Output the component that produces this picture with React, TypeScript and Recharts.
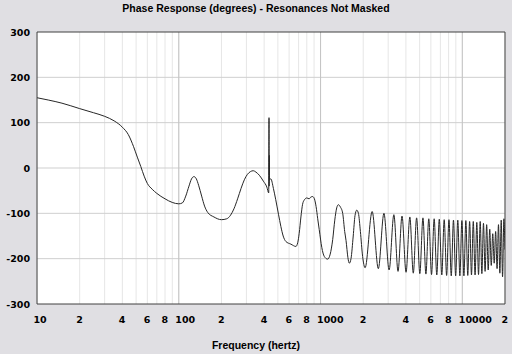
import React from "react";
import { LineChart, Line, XAxis, YAxis, CartesianGrid, ReferenceLine } from "recharts";

const freqs = [
  10, 12, 15, 20, 25, 30, 35, 40, 44, 48, 51, 54, 57, 60, 65, 70, 80, 90, 100, 106, 112, 118, 123, 128, 133, 138, 145, 152, 160, 177, 200, 218, 232, 245, 260, 275, 290, 305, 320, 335, 350, 370, 395, 418, 431, 433, 434, 435, 436.5, 446, 465, 483, 505, 525, 545, 569, 618, 670, 690, 707, 727, 747, 770, 800, 830, 855, 880, 905, 930, 955, 979, 1020, 1062, 1122, 1170, 1218, 1260, 1300, 1335, 1380, 1433, 1480, 1513, 1560, 1596, 1640, 1700, 1750, 1800, 1850, 1910, 1980,
  2062, 2312, 2556, 2800, 3045, 3290, 3520, 3755, 4010, 4265, 4510, 4760, 5015, 5275, 5535, 5800, 6065, 6330, 6605, 6880, 7165, 7450, 7750, 8050, 8355, 8660, 8975, 9290, 9610, 9930, 10260, 10590, 10925, 11260, 11605, 11950, 12300, 12650, 13010, 13370, 13735, 14100, 14475, 14850, 15230, 15610, 16000, 16390, 16785, 17180, 17585, 17990, 18400, 18810, 19225, 19640, 20000,
];

const phases = [
  155, 150, 143, 131, 122, 114, 104, 90, 74, 47, 24, 3, -18, -34, -47, -56, -68, -76, -79, -77, -62, -40, -24, -19, -24, -38, -62, -84, -98, -108, -114, -112, -104, -90, -68, -45, -26, -14, -8, -6, -9, -16, -29, -42, -55, 111, -40, 28, -25, -24, -45, -70, -102, -129, -150, -162, -168, -173, -165, -144, -108, -80, -70, -66, -68, -64, -63, -68, -85, -112, -136, -175, -195, -201, -190, -158, -115, -88, -81, -86, -100, -140, -160, -198, -210, -200, -150, -105, -93, -100, -140, -195,
  -220, -96, -222, -100, -225, -103, -228, -106, -230, -108, -232, -110, -233, -110, -234, -112, -235, -112, -236, -113, -236, -114, -237, -114, -238, -115, -238, -115, -238, -116, -238, -116, -237, -118, -236, -118, -236, -120, -235, -118, -233, -122, -228, -125, -225, -135, -215, -145, -210, -140, -222, -125, -232, -115, -240, -112, -180,
];

const xTicks = [
  10, 20, 30, 40, 50, 60, 70, 80, 90,
  100, 200, 300, 400, 500, 600, 700, 800, 900,
  1000, 2000, 3000, 4000, 5000, 6000, 7000, 8000, 9000,
  10000, 20000,
];
const xTickLabels = [
  "10", "2", "", "4", "", "6", "", "8", "",
  "100", "2", "", "4", "", "6", "", "8", "",
  "1000", "2", "", "4", "", "6", "", "8", "",
  "10000", "2",
];
const yTicks = [-300, -200, -100, 0, 100, 200, 300];
const decades = [100, 1000, 10000];
const innerGridY = [-200, -100, 0, 100, 200];

const data = freqs.map((f, i) => ({ f, p: phases[i] }));

const TICK_FONT = "'DejaVu Sans', sans-serif";
const TITLE_FONT = "'Liberation Sans', Arial, sans-serif";

function XTick(props: any) {
  const { x, y, payload } = props;
  const idx = xTicks.indexOf(payload.value);
  const label = idx >= 0 ? xTickLabels[idx] : "";
  if (!label) return <g />;
  return (
    <text x={x - 3.5} y={y + 19} textAnchor="start" fontFamily={TICK_FONT} fontWeight="bold" fontSize={9.5} fill="#000">
      {label}
    </text>
  );
}

function YTick(props: any) {
  const { x, y, payload } = props;
  return (
    <text x={x} y={y + 3.5} textAnchor="end" fontFamily={TICK_FONT} fontWeight="bold" fontSize={9.5} fill="#000">
      {String(payload.value)}
    </text>
  );
}

export default function App() {
  return (
    <div style={{ position: "absolute", left: 0, top: 0, width: 512, height: 354, background: "#e0dfe3" }}>
      <div
        style={{
          position: "absolute", left: 0, top: 2, width: 512, textAlign: "center",
          fontFamily: TITLE_FONT, fontWeight: "bold", fontSize: 10.5, lineHeight: "13px", color: "#000",
        }}
      >
        Phase Response (degrees) - Resonances Not Masked
      </div>
      <LineChart width={512} height={354} data={data} margin={{ top: 32, right: 7, bottom: 0, left: 0 }}>
        <CartesianGrid horizontal={false} vertical={true} stroke="#e6e6e6" fill="#ffffff" />
        {innerGridY.map((v) => (
          <ReferenceLine key={"h" + v} y={v} stroke="#cfcfcf" strokeWidth={1} />
        ))}
        {decades.map((v) => (
          <ReferenceLine key={"d" + v} x={v} stroke="#c4c4c4" strokeWidth={1} />
        ))}
        <ReferenceLine y={300} stroke="#404040" strokeWidth={1} />
        <ReferenceLine x={20000} stroke="#404040" strokeWidth={1} />
        <XAxis
          dataKey="f"
          type="number"
          scale="log"
          domain={[10, 20000]}
          allowDataOverflow
          ticks={xTicks}
          interval={0}
          tick={<XTick />}
          tickLine={false}
          tickSize={0}
          tickMargin={0}
          axisLine={{ stroke: "#404040" }}
          height={50}
        />
        <YAxis
          type="number"
          domain={[-300, 300]}
          ticks={yTicks}
          interval={0}
          tick={<YTick />}
          tickLine={false}
          tickSize={0}
          tickMargin={7}
          axisLine={{ stroke: "#404040" }}
          width={37}
        />
        <Line type="monotone" dataKey="p" stroke="#262626" strokeWidth={1} dot={false} isAnimationActive={false} />
      </LineChart>
      <div
        style={{
          position: "absolute", left: 0, top: 339, width: 512, textAlign: "center",
          fontFamily: TITLE_FONT, fontWeight: "bold", fontSize: 10.5, lineHeight: "13px", color: "#000",
        }}
      >
        Frequency (hertz)
      </div>
    </div>
  );
}
